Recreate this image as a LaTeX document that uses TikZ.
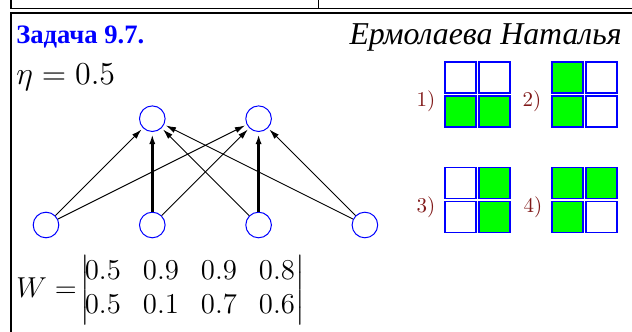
\documentclass[tikz,border=0pt]{standalone}
\usepackage{amsmath}
\usepackage{fontspec}
\newfontfamily\headfont{Liberation Serif}
\usetikzlibrary{positioning,arrows.meta}

\definecolor{cellgreen}{rgb}{0,1,0}
\definecolor{optred}{rgb}{0.5,0.1,0.1}

% one 2x2 pattern: top-left corner, then the four fills row by row
\newcommand{\cells}[6]{%
  \draw[cell, fill=#3] (#1,#2) rectangle ++(30.8,30.8);
  \draw[cell, fill=#4] (#1+34,#2) rectangle ++(30.8,30.8);
  \draw[cell, fill=#5] (#1,#2+34) rectangle ++(30.8,30.8);
  \draw[cell, fill=#6] (#1+34,#2+34) rectangle ++(30.8,30.8);}

\begin{document}
\begin{tikzpicture}[
    x=0.5pt, y=-0.5pt,
    node distance=53.15pt,
    frame/.style={line width=0.9pt, black},
    neuron/.style={
        circle,
        draw=blue,
        line width=0.5pt,
        minimum size=12.8pt,
        inner sep=0pt
    },
    link/.style={
        -{Latex[length=5pt,width=3pt]},
        line width=0.45pt,
        shorten >=1pt
    },
    strong/.style={link, line width=1.2pt},
    cell/.style={draw=blue, line width=0.85pt},
    option/.style={text=optred, inner sep=0pt, font=\fontsize{10.5}{12}\selectfont}
]
\useasboundingbox (0,0) rectangle (632,332);

% Рамка
\draw[frame] (11,0) -- (11,8.5);
\draw[frame] (318.5,0) -- (318.5,8.5);
\draw[frame] (10,8.5) -- (632,8.5);
\draw[frame] (10,12.8) -- (632,12.8);
\draw[frame] (11,12.8) -- (11,332);

% Заголовок
\node[anchor=base west, inner sep=0pt, text=blue,
      font=\headfont\bfseries\fontsize{13.3}{17}\selectfont] (task) at (16,43) {Задача 9.7.};
\node[anchor=base east, inner sep=0pt,
      font=\headfont\itshape\fontsize{15.9}{18}\selectfont] (author) at (622,44) {Ермолаева Наталья};
\node[anchor=base west, inner sep=0pt, scale=1.11,
      font=\fontsize{14.4}{17}\selectfont] (eta) at (16,84) {$\eta = 0.5$};

% Нейроны
\node[neuron] (b1) at (46,225) {};
\node[neuron, right of=b1] (b2) {};
\node[neuron, right of=b2] (b3) {};
\node[neuron, right of=b3] (b4) {};
\node[neuron, above of=b2] (t1) {};
\node[neuron, above of=b3] (t2) {};

% Связи
\draw[link] (b1) -- (t1);
\draw[link] (b1) -- (t2);
\draw[strong] (b2) -- (t1);
\draw[link] (b2) -- (t2);
\draw[link] (b3) -- (t1);
\draw[strong] (b3) -- (t2);
\draw[link] (b4) -- (t1);
\draw[link] (b4) -- (t2);

% Матрица весов
\node[anchor=west, inner sep=0pt, font=\fontsize{14.4}{17}\selectfont] (weights) at (16,290)
    {\setlength{\arraycolsep}{5.5pt}$W =\!\left|\!\begin{matrix}
        0.5 & 0.9 & 0.9 & 0.8\\
        0.5 & 0.1 & 0.7 & 0.6
    \end{matrix}\right|$};

% Варианты ответа
\cells{445.2}{61.9}{white}{white}{cellgreen}{cellgreen}
\cells{551.9}{61.9}{cellgreen}{white}{cellgreen}{white}
\cells{445.2}{167.6}{white}{cellgreen}{white}{cellgreen}
\cells{551.9}{167.6}{cellgreen}{cellgreen}{cellgreen}{white}
\node[option] (opt1) at (426,101) {1)};
\node[option] (opt2) at (532,101) {2)};
\node[option] (opt3) at (426,207) {3)};
\node[option] (opt4) at (533,207) {4)};

\end{tikzpicture}
\end{document}
